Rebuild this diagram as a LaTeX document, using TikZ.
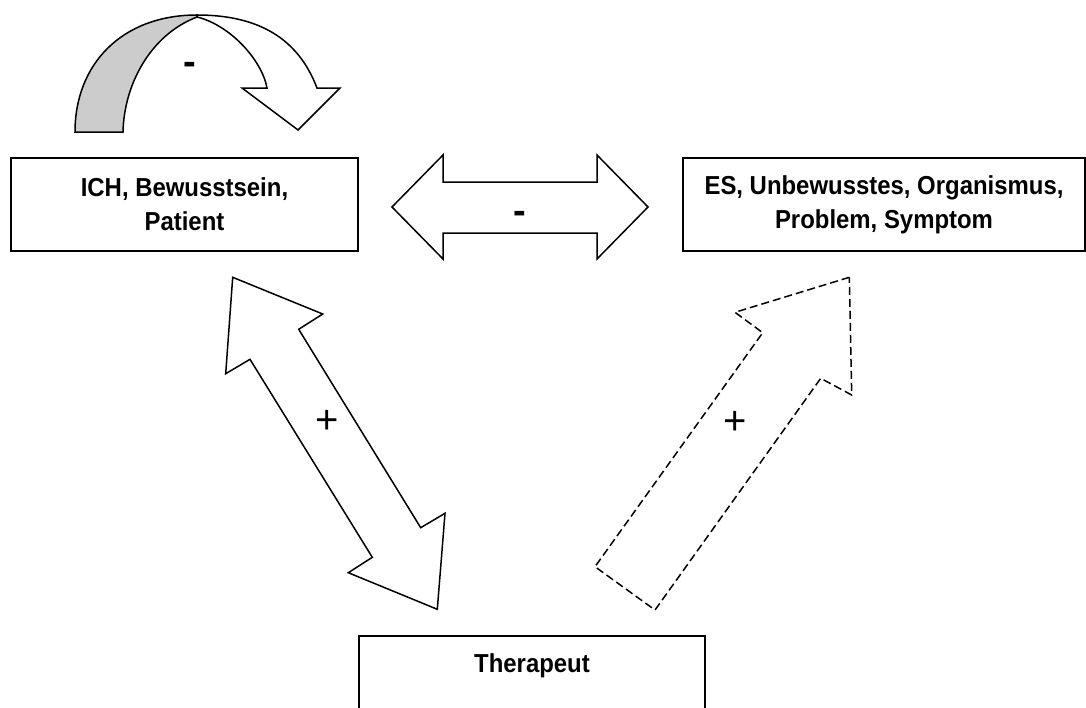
\documentclass[tikz,border=0pt]{standalone}
\usepackage{fontspec}
\setmainfont{Liberation Sans}
\newfontfamily\boxfont[FakeStretch=0.92]{Liberation Sans}
\definecolor{backgray}{RGB}{204,204,204}
\begin{document}
\begin{tikzpicture}[x=1pt,y=-1pt,
  box/.style={draw, line width=2pt, inner sep=0pt, align=center,
    font=\boxfont\bfseries\fontsize{26}{34}\selectfont},
  blockarrow/.style={draw, line width=1.5pt, line join=miter, fill=white},
  sign/.style={inner sep=0pt, font=\fontsize{40}{40}\selectfont},
  boldsign/.style={sign, font=\bfseries\fontsize{38}{38}\selectfont}
]
\useasboundingbox (0,0) rectangle (1086,707);
\clip (0,0) rectangle (1086,707);

% the three boxes
\node[box, minimum width=347, minimum height=93] (ich) at (184.5,204.5)
  {ICH, Bewusstsein,\\Patient};
\node[box, minimum width=402, minimum height=93] (es) at (884,204.5)
  {ES, Unbewusstes, Organismus,\\Problem, Symptom};
\node[box, minimum width=346, minimum height=93, text height=19pt, text depth=40pt]
  (ther) at (532,682.5) {Therapeut};

% curved arrow above the ICH box: white front face
\path[blockarrow] (197,17) .. controls (230,25) and (262,60) .. (267,88)
  -- (242,88) -- (298,130) -- (340,88) -- (317,88)
  .. controls (298,38) and (258,15) .. (197,15) -- cycle;
% grey back face
\path[blockarrow, fill=backgray] (75,132) .. controls (75,64) and (122,15) .. (197,15)
  -- (197,17) .. controls (150,35) and (124,85) .. (123,132) -- cycle;
\node[boldsign] (m1) at (190,68) {-};

% horizontal double arrow between ICH and ES
\path[blockarrow] (392,207) -- (443,155) -- (443,182) -- (597,182) -- (597,155)
  -- (648,207) -- (597,259) -- (597,233) -- (443,233) -- (443,259) -- cycle;
\node[boldsign] (m2) at (519.5,217.5) {-};

% diagonal double arrow between ICH and Therapeut
\path[blockarrow] (232.7,277.3) -- (322.7,314) -- (298.7,329.3) -- (420.7,527.7)
  -- (445,513.3) -- (437.3,609.3) -- (348.3,572.7) -- (372.3,557.3)
  -- (250,359.3) -- (225.7,373.7) -- cycle;
\node[sign] (p1) at (326.7,421.5) {+};

% dashed arrow from Therapeut towards ES
\path[blockarrow, dash pattern=on 8pt off 4pt] (849.3,277.3) -- (735,312.3)
  -- (762.7,332.7) -- (595,566.7) -- (655,610) -- (820.7,378.3)
  -- (851.7,395) -- cycle;
\node[sign] (p2) at (735.3,423.2) {+};
\end{tikzpicture}
\end{document}
